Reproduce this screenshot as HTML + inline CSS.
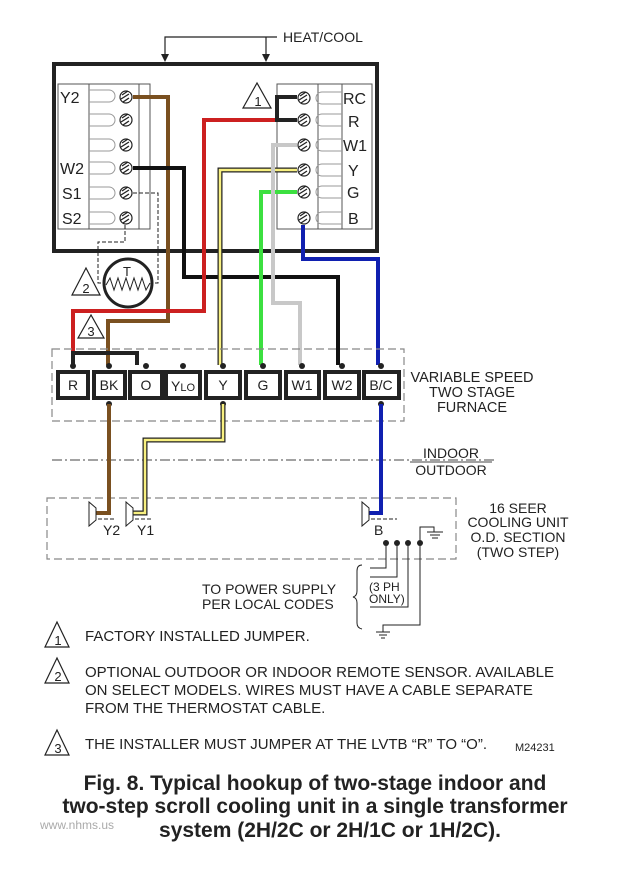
<!DOCTYPE html>
<html><head><meta charset="utf-8"><style>
html,body{margin:0;padding:0;background:#fff;}
svg{display:block;}
text{font-family:"Liberation Sans",sans-serif;fill:#222;}
</style></head><body>
<svg width="638" height="875" viewBox="0 0 638 875" xmlns="http://www.w3.org/2000/svg">
<rect width="638" height="875" fill="#fff"/>
<g stroke="#222" stroke-width="1.2" fill="none">
<polyline points="165,58 165,37 277,37"/>
<line x1="266" y1="37" x2="266" y2="58"/>
</g>
<polygon points="161,54 169,54 165,62" fill="#222"/>
<polygon points="262,54 270,54 266,62" fill="#222"/>
<text x="283" y="42" font-size="14">HEAT/COOL</text>
<rect x="54" y="64" width="323" height="187" fill="none" stroke="#222" stroke-width="4"/>
<g stroke="#555" stroke-width="1" fill="none">
<rect x="58" y="84" width="92" height="145"/>
<line x1="89" y1="84" x2="89" y2="229"/>
<line x1="139" y1="84" x2="139" y2="229"/>
<rect x="277" y="84" width="95" height="145"/>
<line x1="342" y1="84" x2="342" y2="229"/>
<line x1="318" y1="84" x2="318" y2="229"/>
</g>
<g fill="none" stroke="#999" stroke-width="1">
<path d="M89,90 h20 a5,5 0 0 1 0,12 h-20"/><path d="M89,114 h20 a5,5 0 0 1 0,12 h-20"/><path d="M89,139 h20 a5,5 0 0 1 0,12 h-20"/><path d="M89,162 h20 a5,5 0 0 1 0,12 h-20"/><path d="M89,187 h20 a5,5 0 0 1 0,12 h-20"/><path d="M89,212 h20 a5,5 0 0 1 0,12 h-20"/>
<path d="M342,92 h-20 a5,5 0 0 0 0,12 h20"/><path d="M342,114 h-20 a5,5 0 0 0 0,12 h20"/><path d="M342,139 h-20 a5,5 0 0 0 0,12 h20"/><path d="M342,164 h-20 a5,5 0 0 0 0,12 h20"/><path d="M342,186 h-20 a5,5 0 0 0 0,12 h20"/><path d="M342,212 h-20 a5,5 0 0 0 0,12 h20"/>
</g>
<g font-size="16">
<text x="60" y="103">Y2</text><text x="60" y="174">W2</text><text x="62" y="199">S1</text><text x="62" y="224">S2</text>
<text x="343" y="104">RC</text><text x="348" y="127">R</text><text x="343" y="151">W1</text><text x="348" y="176">Y</text><text x="347" y="198">G</text><text x="348" y="224">B</text>
</g>
<g stroke="#222" stroke-width="1" fill="none" stroke-dasharray="4,2">
<polyline points="125,225 125,242 98,242 98,283 104,283"/>
<polyline points="133,193 158,193 158,283 152,283"/>
</g>
<circle cx="128" cy="283" r="24" fill="none" stroke="#222" stroke-width="3"/>
<polyline points="106,285 110,278 114,290 118,278 122,290 126,278 130,290 134,278 138,290 142,278 146,290 150,283" fill="none" stroke="#222" stroke-width="1"/>
<text x="123" y="276" font-size="13">T</text>
<g fill="none" stroke-linejoin="miter">
<polyline points="133,97 168,97 168,321 108,321 108,365" stroke="#7a5020" stroke-width="4"/>
<polyline points="133,168 184,168 184,277 338,277 338,365" stroke="#111" stroke-width="4"/>
<polyline points="277,120 204,120 204,311 73,311 73,365" stroke="#cc2020" stroke-width="4"/>
<polyline points="297,170 220,170 220,365" stroke="#222" stroke-width="5"/>
<polyline points="297,170 220,170 220,365" stroke="#f8f080" stroke-width="2.5"/>
<polyline points="297,192 261,192 261,365" stroke="#3ce040" stroke-width="4"/>
<polyline points="297,145 273,145 273,303 300,303 300,365" stroke="#c8c8c8" stroke-width="4"/>
<polyline points="303,225 303,259 378,259 378,365" stroke="#1020b0" stroke-width="4"/>
<polyline points="297,97 277,97 277,120 297,120" stroke="#222" stroke-width="4"/>
<polyline points="73,365 73,353 137,353 137,365" stroke="#222" stroke-width="4"/>
</g>
<g fill="#fff" stroke="#222" stroke-width="1.2">
<circle cx="126" cy="97" r="6"/><circle cx="126" cy="120" r="6"/><circle cx="126" cy="145" r="6"/><circle cx="126" cy="168" r="6"/><circle cx="126" cy="193" r="6"/><circle cx="126" cy="218" r="6"/>
<circle cx="304" cy="98" r="6"/><circle cx="304" cy="120" r="6"/><circle cx="304" cy="145" r="6"/><circle cx="304" cy="170" r="6"/><circle cx="304" cy="192" r="6"/><circle cx="304" cy="218" r="6"/>
</g>
<g stroke="#222" stroke-width="1.3">
<path d="M122,95l6,-4M121,99l8,-5M123,102l6,-4"/><path d="M122,118l6,-4M121,122l8,-5M123,125l6,-4"/><path d="M122,143l6,-4M121,147l8,-5M123,150l6,-4"/><path d="M122,166l6,-4M121,170l8,-5M123,173l6,-4"/><path d="M122,191l6,-4M121,195l8,-5M123,198l6,-4"/><path d="M122,216l6,-4M121,220l8,-5M123,223l6,-4"/>
<path d="M300,96l6,-4M299,100l8,-5M301,103l6,-4"/><path d="M300,118l6,-4M299,122l8,-5M301,125l6,-4"/><path d="M300,143l6,-4M299,147l8,-5M301,150l6,-4"/><path d="M300,168l6,-4M299,172l8,-5M301,175l6,-4"/><path d="M300,190l6,-4M299,194l8,-5M301,197l6,-4"/><path d="M300,216l6,-4M299,220l8,-5M301,223l6,-4"/>
</g>
<g fill="#fff" stroke="#222" stroke-width="1.2">
<polygon points="257,83 243,108 271,108"/>
<polygon points="86,268 72,295 100,295"/>
<polygon points="91,315 78,338 104,338"/>
<polygon points="57,622 45,647 69,647"/>
<polygon points="57,658 45,683 69,683"/>
<polygon points="57,730 45,755 69,755"/>
</g>
<g font-size="13" text-anchor="middle">
<text x="258" y="106">1</text><text x="86" y="293">2</text><text x="91" y="336">3</text>
<text x="58" y="645">1</text><text x="58" y="681">2</text><text x="58" y="753">3</text>
</g>
<rect x="52" y="349" width="352" height="72" fill="none" stroke="#888" stroke-width="1.2" stroke-dasharray="8,4"/>
<g fill="#fff" stroke="#222" stroke-width="4">
<rect x="58" y="372" width="30" height="26"/><rect x="94" y="372" width="31" height="26"/><rect x="130" y="372" width="32" height="26"/><rect x="166" y="372" width="34" height="26"/><rect x="206" y="372" width="34" height="26"/><rect x="246" y="372" width="34" height="26"/><rect x="286" y="372" width="33" height="26"/><rect x="325" y="372" width="34" height="26"/><rect x="364" y="372" width="35" height="26"/>
</g>
<g font-size="14" text-anchor="middle">
<text x="73" y="390">R</text><text x="109" y="390">BK</text><text x="146" y="390">O</text><text x="183" y="391">Y<tspan font-size="11">LO</tspan></text><text x="223" y="390">Y</text><text x="263" y="390">G</text><text x="302" y="390">W1</text><text x="342" y="390">W2</text><text x="381" y="390">B/C</text>
</g>
<g fill="#222">
<circle cx="73" cy="366" r="3"/><circle cx="109" cy="366" r="3"/><circle cx="146" cy="366" r="3"/><circle cx="183" cy="366" r="3"/><circle cx="223" cy="366" r="3"/><circle cx="263" cy="366" r="3"/><circle cx="302" cy="366" r="3"/><circle cx="342" cy="366" r="3"/><circle cx="381" cy="366" r="3"/>
<circle cx="109" cy="404" r="3"/><circle cx="223" cy="404" r="3"/><circle cx="381" cy="404" r="3"/>
</g>
<g font-size="14.5" text-anchor="middle">
<text x="472" y="382">VARIABLE SPEED</text><text x="472" y="397">TWO STAGE</text><text x="472" y="412">FURNACE</text>
</g>
<g font-size="14" text-anchor="middle">
<text x="451" y="458">INDOOR</text><text x="451" y="475">OUTDOOR</text>
<text x="518" y="513">16 SEER</text><text x="518" y="527">COOLING UNIT</text><text x="518" y="542">O.D. SECTION</text><text x="518" y="557">(TWO STEP)</text>
</g>
<line x1="52" y1="460" x2="497" y2="460" stroke="#444" stroke-width="1" stroke-dasharray="10,3,2,3"/>
<line x1="410" y1="462" x2="492" y2="462" stroke="#444" stroke-width="1"/>
<rect x="47" y="498" width="409" height="61" fill="none" stroke="#888" stroke-width="1.2" stroke-dasharray="8,4"/>
<g fill="none">
<polyline points="109,404 109,513 96,513" stroke="#7a5020" stroke-width="4"/>
<polyline points="223,404 223,440 145,440 145,513 133,513" stroke="#222" stroke-width="5"/>
<polyline points="223,404 223,440 145,440 145,513 133,513" stroke="#f8f080" stroke-width="2.5"/>
<polyline points="381,404 381,513 369,513" stroke="#1020b0" stroke-width="4"/>
</g>
<g fill="none" stroke="#222" stroke-width="1">
<polygon points="96,508 96,520 89,526 89,502"/>
<polygon points="133,508 133,520 126,526 126,502"/>
<polygon points="369,508 369,520 362,526 362,502"/>
<path d="M98,519h18M135,519h18M371,519h26" stroke-dasharray="4,2"/>
<polyline points="386,543 386,568 370,568"/>
<polyline points="397,543 397,577 370,577"/>
<polyline points="408,543 408,607 370,607"/>
<polyline points="420,543 420,625 383,625 383,632"/>
<polyline points="420,543 420,527 434,527 434,532"/>
<path d="M376,632h14M379,635h8M381,638h4"/>
<path d="M427,532h16M430,535h10M432,538h6"/>
<path d="M362,565 q-5,0 -5,6 v20 q0,5 -4,6 q4,1 4,6 v20 q0,5 5,6"/>
</g>
<g fill="#222"><circle cx="386" cy="543" r="3"/><circle cx="397" cy="543" r="3"/><circle cx="408" cy="543" r="3"/><circle cx="420" cy="543" r="3"/></g>
<g font-size="14">
<text x="103" y="535">Y2</text><text x="137" y="535">Y1</text><text x="374" y="535">B</text>
<text x="202" y="594">TO POWER SUPPLY</text><text x="202" y="609">PER LOCAL CODES</text>
</g>
<g font-size="12"><text x="369" y="591">(3 PH</text><text x="369" y="603">ONLY)</text></g>
<g font-size="15">
<text x="85" y="641">FACTORY INSTALLED JUMPER.</text>
<text x="85" y="677">OPTIONAL OUTDOOR OR INDOOR REMOTE SENSOR.  AVAILABLE</text>
<text x="85" y="695">ON SELECT MODELS.  WIRES MUST HAVE A CABLE SEPARATE</text>
<text x="85" y="713">FROM THE THERMOSTAT CABLE.</text>
<text x="85" y="749">THE INSTALLER MUST JUMPER AT THE LVTB “R” TO “O”.</text>
</g>
<text x="515" y="751" font-size="11">M24231</text>
<g font-size="21" font-weight="bold" text-anchor="middle">
<text x="315" y="790">Fig. 8. Typical hookup of two-stage indoor and</text>
<text x="315" y="813">two-step scroll cooling unit in a single transformer</text>
<text x="330" y="837">system (2H/2C or 2H/1C or 1H/2C).</text>
</g>
<text x="40" y="829" font-size="12" style="fill:#aaa">www.nhms.us</text>
</svg>
</body></html>
